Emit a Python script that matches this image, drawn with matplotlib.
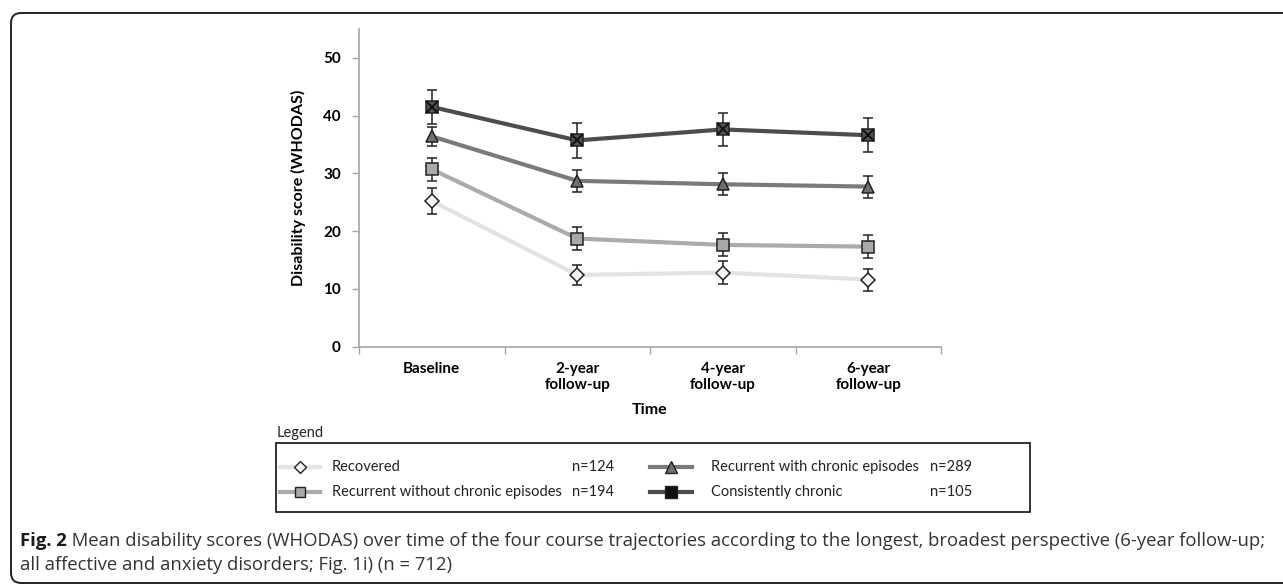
import matplotlib.pyplot as plt
from matplotlib.patches import FancyBboxPatch, Rectangle

plt.rcParams['font.family'] = ['Lato', 'DejaVu Sans']

timepoints = ["Baseline", "2-year\nfollow-up", "4-year\nfollow-up", "6-year\nfollow-up"]
groups = ["Recovered", "Recurrent without chronic episodes",
          "Recurrent with chronic episodes", "Consistently chronic"]
group_n = ["n=124", "n=194", "n=289", "n=105"]

recovered = [25.2, 12.4, 12.8, 11.6]
recovered_err = [2.3, 1.8, 2.0, 1.9]
recurrent_wo = [30.7, 18.7, 17.6, 17.3]
recurrent_wo_err = [2.0, 2.0, 2.0, 2.0]
recurrent_w = [36.4, 28.7, 28.1, 27.7]
recurrent_w_err = [1.7, 1.9, 1.9, 1.9]
chronic = [41.5, 35.7, 37.6, 36.6]
chronic_err = [3.0, 3.1, 2.8, 2.9]

series = [recovered, recurrent_wo, recurrent_w, chronic]
errors = [recovered_err, recurrent_wo_err, recurrent_w_err, chronic_err]

line_colors = ["#e3e3e3", "#ababab", "#7a7a7a", "#4d4d4d"]
marker_shapes = ["D", "s", "^", "s"]
marker_fill = ["#f4f4f4", "#a9a9a9", "#6f6f6f", "#555555"]
marker_size = [7, 8.5, 9, 9]

fig = plt.figure(figsize=(12.83, 5.84), dpi=100)
ax = fig.add_axes([359 / 1283, 1 - 346.5 / 584, (941 - 359) / 1283, (346.5 - 29) / 584])

x = list(range(len(timepoints)))
for i in range(4):
    ax.errorbar(x, series[i], yerr=errors[i], fmt="none", ecolor="#222222",
                elinewidth=1.1, capsize=3.5, capthick=1.1, zorder=2)
    ax.plot(x, series[i], color=line_colors[i], lw=3, zorder=3 + i)
    ax.plot(x, series[i], linestyle="none", marker=marker_shapes[i],
            markersize=marker_size[i], markerfacecolor=marker_fill[i],
            markeredgecolor="#222222", markeredgewidth=1.1, zorder=3 + i)
ax.plot(x, chronic, linestyle="none", marker="x", markersize=9,
        markeredgecolor="#151515", markeredgewidth=1.5, zorder=8)

ax.set_xlim(-0.5, 3.5)
ax.set_ylim(0, 55)
ax.set_yticks(range(0, 51, 10))
ax.set_xticks(x)
ax.set_xticklabels(timepoints, fontweight="bold", fontsize=11)
ax.set_xticks([-0.5, 0.5, 1.5, 2.5, 3.5], minor=True)
ax.tick_params(axis="x", which="major", length=0, pad=11)
ax.tick_params(axis="x", which="minor", length=5, color="#a6a6a6", width=1)
ax.tick_params(axis="y", length=5, color="#a6a6a6", width=1, labelsize=11, pad=8)
for lab in ax.get_yticklabels():
    lab.set_fontweight("bold")
for s in ["top", "right"]:
    ax.spines[s].set_visible(False)
for s in ["left", "bottom"]:
    ax.spines[s].set_color("#a6a6a6")
    ax.spines[s].set_linewidth(1.2)
ax.set_ylabel("Disability score (WHODAS)", fontweight="bold", fontsize=11.5, labelpad=12)
ax.set_xlabel("Time", fontweight="bold", fontsize=11.5, labelpad=8)

# overlay axes in pixel coordinates for legend box, caption and frame
ov = fig.add_axes([0, 0, 1, 1], facecolor="none")
ov.set_xlim(0, 1283)
ov.set_ylim(584, 0)
ov.axis("off")

ov.add_patch(FancyBboxPatch((11, 13), 1320, 570, boxstyle="round,pad=0,rounding_size=10",
                            fill=False, edgecolor="#222222", lw=1.4, clip_on=False))

ov.text(277, 433, "Legend", fontsize=10.5, va="center", ha="left", color="#222222")
ov.add_patch(Rectangle((276, 443), 1030 - 276, 512 - 443, fill=False,
                       edgecolor="#111111", lw=1.2))

handle_x = [(280, 320), (280, 320), (650, 692), (650, 692)]
text_x = [332, 332, 711, 711]
n_x = [572, 572, 930, 930]
row_y = [467, 492, 467, 492]
for i in range(4):
    hx0, hx1 = handle_x[i]
    ov.plot([hx0, hx1], [row_y[i], row_y[i]], color=line_colors[i], lw=3)
    ov.plot([(hx0 + hx1) / 2], [row_y[i]], marker=marker_shapes[i],
            markersize=marker_size[i] - 1,
            markerfacecolor="#111111" if i == 3 else marker_fill[i],
            markeredgecolor="#222222", markeredgewidth=1)
    ov.text(text_x[i], row_y[i], groups[i], fontsize=10.5, va="center", color="#222222")
    ov.text(n_x[i], row_y[i], group_n[i], fontsize=10.5, va="center", color="#222222")

cap1 = ov.text(20, 541, "Fig. 2", fontsize=13.3, fontweight="bold", va="center",
               color="#1a1a1a", family=["Open Sans", "DejaVu Sans"])
ov.annotate(" Mean disability scores (WHODAS) over time of the four course trajectories "
            "according to the longest, broadest perspective (6-year follow-up;",
            xy=(1, 0.5), xycoords=cap1, va="center", ha="left", fontsize=13.3,
            color="#333333", family=["Open Sans", "DejaVu Sans"])
ov.text(20, 565, "all affective and anxiety disorders; Fig. 1i) (n = 712)", fontsize=13.3,
        va="center", color="#333333", family=["Open Sans", "DejaVu Sans"])

fig.savefig("out.png", dpi=100)
